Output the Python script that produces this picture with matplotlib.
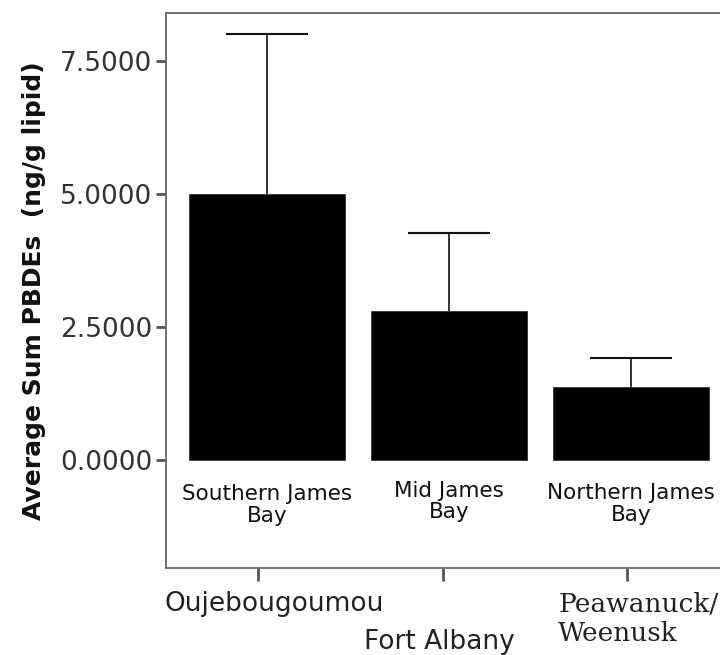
import matplotlib
matplotlib.use("Agg")
import matplotlib.pyplot as plt
import numpy as np

regions = ["Southern James\nBay", "Mid James\nBay", "Northern James\nBay"]
communities = ["Oujebougoumou", "Fort Albany", "Peawanuck/\nWeenusk"]
means = [5.0, 2.80, 1.37]
upper_err = [3.0, 1.47, 0.55]
yticks = [0.0, 2.5, 5.0, 7.5]
ytick_labels = ["0.0000", "2.5000", "5.0000", "7.5000"]

fig = plt.figure(figsize=(7.2, 6.55), dpi=100)
ax = fig.add_axes([166/720, 1-568/655, (731-166)/720, (568-13)/655])

x = np.arange(len(means))
ax.bar(x, means, width=0.86, color="black", edgecolor="#222222", linewidth=0.5, zorder=2)
eb = ax.errorbar(x, means, yerr=[np.zeros(len(means)), upper_err], fmt="none",
                 ecolor="#111111", elinewidth=1.2, capsize=29.5, capthick=1.5, zorder=1)
# hide the lower caps (zero-length lower error)
eb[1][0].set_visible(False)

ax.set_xlim(-0.555, 2.55)
ax.set_ylim(-2.03, 8.40)

ax.set_yticks(yticks)
ax.set_yticklabels(ytick_labels, fontsize=19, color="#333333")
ax.tick_params(axis="y", direction="out", length=7, width=2, color="#555555", pad=3)

ax.set_xticks(x - np.array([0.05, 0.03, 0.02]))
ax.set_xticklabels([])
ax.tick_params(axis="x", direction="out", length=9, width=2, color="#555555")

for s in ["left", "top", "bottom"]:
    ax.spines[s].set_color("#666666")
    ax.spines[s].set_linewidth(1.3)
ax.spines["right"].set_visible(False)

label_y = [-0.85, -0.78, -0.83]
for xi, ly, lab in zip(x, label_y, regions):
    ax.text(xi, ly, lab, ha="center", va="center", fontsize=15.5, color="#111111",
            linespacing=1.1)

ylab = ax.set_ylabel("Average Sum PBDEs  (ng/g lipid)", fontsize=18, fontweight="bold",
                     color="#111111")
ax.yaxis.set_label_coords((34-166)/565, 0.5)
ylab.set_va("center")

# community labels below axis
fig.text(274/720, 1-604/655, communities[0], ha="center", va="center", fontsize=19, color="#222222")
fig.text(439/720, 1-642/655, communities[1], ha="center", va="center", fontsize=19, color="#222222")
fig.text(558/720, 1-619/655, communities[2], ha="left", va="center", fontsize=19,
         family="DejaVu Serif", color="#222222", linespacing=1.2)

fig.savefig("out.png", dpi=100)
